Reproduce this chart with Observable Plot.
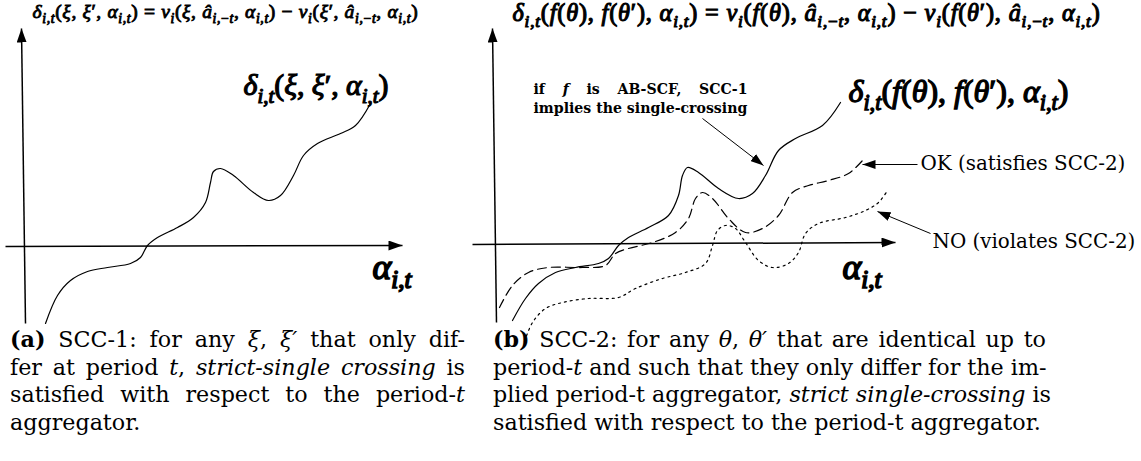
<!DOCTYPE html>
<html><head><meta charset="utf-8">
<script src="https://cdn.jsdelivr.net/npm/d3@7"></script>
<script src="https://cdn.jsdelivr.net/npm/@observablehq/plot@0.6"></script>
<style>
html,body{margin:0;padding:0;background:#fff;}
#wrap{position:relative;width:1141px;height:461px;overflow:hidden;font-family:"DejaVu Serif",serif;color:#000;}
#wrap svg{position:absolute;top:0;}
.cap{position:absolute;top:326px;font-size:20px;line-height:27.6px;}
.cap div{text-align:justify;text-align-last:justify;white-space:nowrap;}
.cap div.last{text-align-last:left;}
</style></head>
<body><div id="wrap"></div>
<script>
// ---------------- data (alpha, delta) ----------------
// panel (a)
const curveA = [[22,-78],[34,-50],[47,-35],[64,-26],[84,-22],[107,-18],[117,-12],[124,0],[134,8],[154,18],[170,28],[182,43],[187,63],[190,74],[197,77],[210,70],[230,53],[245,45],[257,50],[270,70],[280,90],[294,102],[317,112],[332,120],[347,142]];
const axesA = [{x1:2,y1:-78,x2:-2,y2:217},{x1:-18,y1:-1,x2:379,y2:0}];
// panel (b)
const solidB = [[17,-77],[30,-55],[43,-40],[60,-29],[80,-24],[103,-20],[113,-15],[123,-2],[133,6],[153,16],[173,28],[183,48],[187,68],[192,76],[203,71],[223,55],[243,45],[257,50],[270,68],[283,93],[300,105],[327,118],[345,141]];
const dashedB = [[4,-64],[17,-42],[33,-29],[53,-24],[87,-24],[110,-22],[120,-10],[133,-5],[157,1],[180,11],[193,25],[200,45],[207,51],[217,45],[233,25],[250,11],[267,15],[283,28],[297,51],[313,58],[333,63],[353,70],[367,83]];
const dottedB = [[29,-98],[37,-79],[50,-65],[67,-59],[93,-55],[123,-54],[140,-45],[167,-35],[190,-29],[210,-20],[217,-2],[222,13],[230,18],[240,15],[250,1],[263,-17],[277,-24],[293,-20],[303,-9],[310,10],[323,20],[350,26],[370,33],[383,41],[392,53]];
const axesB = [{x1:1,y1:-79,x2:-3,y2:215},{x1:-23,y1:-1,x2:400,y2:1}];
const arrowsB = [{x1:207,y1:125,x2:268,y2:78},{x1:422,y1:79,x2:367,y2:79},{x1:435,y1:10,x2:382,y2:32}];

// texts
const titleA = "δ_{i,t}(ξ, ξ′, α_{i,t}) = v_i(ξ, â_{i,−t}, α_{i,t}) − v_i(ξ′, â_{i,−t}, α_{i,t})";
const titleB = "δ_{i,t}(f(θ), f(θ′), α_{i,t}) = v_i(f(θ), â_{i,−t}, α_{i,t}) − v_i(f(θ′), â_{i,−t}, α_{i,t})";
const deltaA = "δ_{i,t}(ξ, ξ′, α_{i,t})";
const deltaB = "δ_{i,t}(f(θ), f(θ′), α_{i,t})";
const alphaLabel = "α_{i,t}";
const noteLines = ["if *f* is AB-SCF, SCC-1", "implies the single-crossing"];
const okLabel = "OK (satisfies SCC-2)";
const noLabel = "NO (violates SCC-2)";
const captionA = ["<b>(a)</b> SCC-1: for any <i>ξ</i>, <i>ξ′</i> that only dif-",
  "fer at period <i>t</i>, <i>strict-single crossing</i> is",
  "satisfied with respect to the period-<i>t</i>",
  "aggregator."];
const captionB = ["<b>(b)</b> SCC-2: for any <i>θ</i>, <i>θ′</i> that are identical up to",
  "period-<i>t</i> and such that they only differ for the im-",
  "plied period-t aggregator, <i>strict single-crossing</i> is",
  "satisfied with respect to the period-t aggregator."];

// label anchors (data units)
const labelsA = [
  {role:"title", text:titleA, x:9, y:234},
  {role:"delta", text:deltaA, x:220, y:160},
  {role:"alpha", text:alphaLabel, x:349, y:-22}
];
const labelsB = [
  {role:"title", text:titleB, x:17, y:230},
  {role:"delta", text:deltaB, x:353, y:152},
  {role:"alpha", text:alphaLabel, x:347, y:-24}
];
const notesB = [
  {text:noteLines[0], x:38, y:154},
  {text:noteLines[1], x:38, y:135}
];
const plainB = [
  {text:okLabel, x:425, y:80},
  {text:noLabel, x:437, y:2}
];

// ---------------- styles / layout ----------------
const H = 345;
const mathFont = "Liberation Serif";
const textFont = "DejaVu Serif";
const widths = {
  A:{title:386, delta:145, alpha:41},
  B:{title:588, delta:220, alpha:41, note:214, plain:[205, 203]}
};
const titleShrink = 0.9;   // titles: a bit smaller than width-fit, rest made up by letter spacing
const bolden = {title:0.045, delta:0.04, alpha:0.045};

// ---------------- rendering ----------------
const wrap = document.getElementById("wrap");
const roles = ["title", "delta", "alpha"];

function panel({width, xDomain, yDomain, curves, axes, arrows, labels, notes, plain}) {
  const marks = [
    Plot.link(axes, {x1:"x1", y1:"y1", x2:"x2", y2:"y2", stroke:"black", strokeWidth:1.5})
  ];
  for (const c of curves) marks.push(Plot.line(c.data, {curve:"catmull-rom", stroke:"black", strokeWidth:1.2, strokeDasharray:c.dash}));
  if (arrows) marks.push(Plot.link(arrows, {x1:"x1", y1:"y1", x2:"x2", y2:"y2", stroke:"black", strokeWidth:1}));
  for (const role of roles) {
    marks.push(Plot.text(labels.filter(d => d.role === role), {x:"x", y:"y", text:"text", textAnchor:"start", fontSize:16, fontFamily:mathFont}));
  }
  if (notes) marks.push(Plot.text(notes, {x:"x", y:"y", text:"text", textAnchor:"start", fontWeight:"bold", fontSize:14, fontFamily:textFont}));
  if (plain) marks.push(Plot.text(plain, {x:"x", y:"y", text:"text", textAnchor:"start", fontSize:18, fontFamily:textFont}));
  return Plot.plot({
    width, height:H, margin:0,
    x:{domain:xDomain, axis:null}, y:{domain:yDomain, axis:null},
    style:{fontFamily:mathFont, background:"transparent", overflow:"visible", color:"black"},
    marks
  });
}

const svgA = panel({width:460, xDomain:[-23,437], yDomain:[-100,245],
  curves:[{data:curveA}], axes:axesA, labels:labelsA});
const svgB = panel({width:681, xDomain:[-35,646], yDomain:[-102,243],
  curves:[{data:solidB},{data:dashedB, dash:"9,5"},{data:dottedB, dash:"2,4"}],
  axes:axesB, arrows:arrowsB, labels:labelsB, notes:notesB, plain:plainB});
svgA.style.left = "0px";
svgB.style.left = "460px";

function caption(lines, left, width) {
  const d = document.createElement("div");
  d.className = "cap";
  d.style.left = left + "px"; d.style.width = width + "px";
  d.innerHTML = lines.map((l, i) => i === lines.length - 1 ? `<div class="last"><span>${l}</span></div>` : `<div>${l}</div>`).join("");
  wrap.appendChild(d);
  return d;
}
const capA = caption(captionA, 10, 455);
const capB = caption(captionB, 493, 553);
wrap.appendChild(svgA);
wrap.appendChild(svgB);
// size caption font so the last line of (b) matches its width in the reference
{
  const span = capB.querySelector(".last span");
  const w = span.getBoundingClientRect().width;
  const fs = parseFloat(getComputedStyle(capB).fontSize) * 548 / w;
  capA.style.fontSize = capB.style.fontSize = fs.toFixed(2) + "px";
}

// arrowheads
function addHead(svg, id, len, half) {
  const s = d3.select(svg);
  let defs = s.select("defs");
  if (defs.empty()) defs = s.insert("defs", ":first-child");
  defs.append("marker").attr("id", id).attr("viewBox", `${-len} ${-half} ${len + 1} ${2 * half}`)
    .attr("markerWidth", len + 1).attr("markerHeight", 2 * half).attr("markerUnits", "userSpaceOnUse")
    .attr("refX", 0).attr("refY", 0).attr("orient", "auto")
    .append("path").attr("d", `M0,0L${-len},${-half}L${-len},${half}Z`).attr("fill", "black");
}
addHead(svgA, "axA", 14, 5);
addHead(svgB, "axB", 14, 5);
addHead(svgB, "arB", 13, 4.5);
const linksA = d3.select(svgA).selectAll('g[aria-label="link"]').nodes();
const linksB = d3.select(svgB).selectAll('g[aria-label="link"]').nodes();
d3.select(linksA[0]).selectAll("path").attr("marker-end", "url(#axA)");
d3.select(linksB[0]).selectAll("path").attr("marker-end", "url(#axB)");
d3.select(linksB[1]).selectAll("path").attr("marker-end", "url(#arB)");

// math typesetting: _x / _{..} subscripts, letters italic
function mathify(el) {
  const src = el.textContent;
  const t = d3.select(el);
  t.text(null).style("white-space", "pre");
  const segs = []; let i = 0, buf = "";
  while (i < src.length) {
    const c = src[i];
    if (c === "_") {
      if (buf) { segs.push({s:buf, sub:false}); buf = ""; }
      let s;
      if (src[i + 1] === "{") { const j = src.indexOf("}", i + 2); s = src.slice(i + 2, j); i = j + 1; }
      else { s = src[i + 1]; i += 2; }
      segs.push({s, sub:true});
    } else { buf += c; i++; }
  }
  if (buf) segs.push({s:buf, sub:false});
  const SUB = 0.7, OFF = 0.25; let cur = 0, n = 0;
  for (const seg of segs) {
    const runs = seg.s.match(/\p{L}+|[^\p{L}]+/gu);
    for (const r of runs) {
      const italic = /\p{L}/u.test(r);
      const target = seg.sub ? OFF : 0;
      const ts = t.append("tspan").text(r).attr("font-style", italic ? "italic" : "normal");
      if (seg.sub) ts.attr("font-size", SUB + "em");
      const d = target - cur;
      if (d !== 0) ts.attr("dy", (d / (seg.sub ? SUB : 1)).toFixed(3) + "em");
      cur = target; n += r.length;
    }
  }
  return n;
}
function richify(el) {
  const src = el.textContent; const t = d3.select(el);
  t.text(null).style("white-space", "pre");
  src.split("*").forEach((p, k) => { if (p) t.append("tspan").text(p).attr("font-style", k % 2 ? "italic" : "normal"); });
}
function fit(el, target) {
  const w = el.getBBox().width;
  const fs = parseFloat(getComputedStyle(el).fontSize);
  const nfs = fs * target / w;
  el.setAttribute("font-size", nfs.toFixed(2));
  return nfs;
}
for (const [key, svg] of [["A", svgA], ["B", svgB]]) {
  const texts = d3.select(svg).selectAll('g[aria-label="text"]').nodes();
  roles.forEach((role, k) => {
    d3.select(texts[k]).selectAll("text").each(function() {
      const n = mathify(this);
      let fs = fit(this, widths[key][role]);
      if (role === "title") {
        fs *= titleShrink;
        this.setAttribute("font-size", fs.toFixed(2));
        const w = this.getBBox().width;
        this.setAttribute("letter-spacing", ((widths[key].title - w) / n).toFixed(3));
      }
      this.setAttribute("stroke", "black");
      this.setAttribute("stroke-width", (fs * bolden[role]).toFixed(2));
    });
  });
  if (key === "B") {
    const noteEls = d3.select(texts[3]).selectAll("text").nodes();
    noteEls.forEach(richify);
    fit(noteEls[1], widths.B.note);
    noteEls[0].setAttribute("font-size", noteEls[1].getAttribute("font-size"));
    const gap = (noteEls[1].getBBox().width - noteEls[0].getBBox().width) / 4;
    noteEls[0].setAttribute("word-spacing", gap.toFixed(2));
    d3.select(texts[4]).selectAll("text").each(function(d, i) { fit(this, widths.B.plain[i]); });
  }
}
</script></body></html>
